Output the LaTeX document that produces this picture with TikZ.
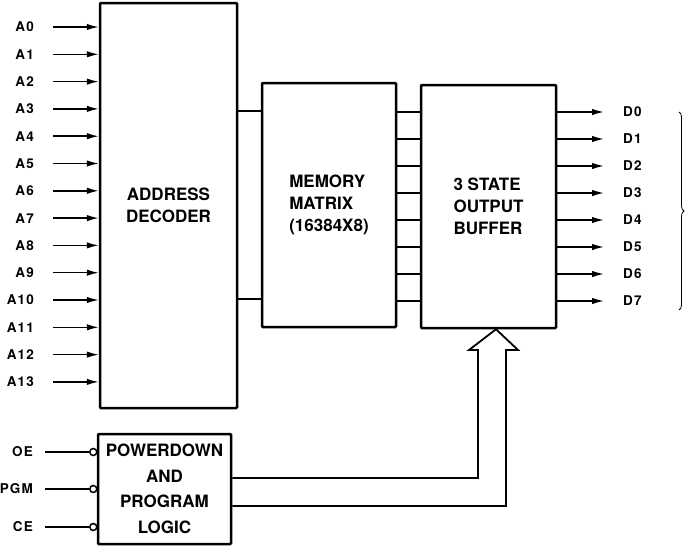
\documentclass[tikz,border=0pt]{standalone}
\usepackage{fontspec}
\setmainfont{TeX Gyre Heros}
\newfontfamily\pinfont[LetterSpace=8]{TeX Gyre Heros}
\usetikzlibrary{arrows.meta,decorations.pathreplacing,calc}
\begin{document}
\begin{tikzpicture}[x=1pt,y=-1pt,
  blk/.style={draw,line width=2.5pt,rounded corners=1pt,inner sep=0pt,font=\fontsize{17}{22}\selectfont\bfseries},
  pinlbl/.style={font=\pinfont\fontsize{13.5}{15}\selectfont\bfseries,inner sep=0pt},
  wire/.style={line width=1.5pt},
  inarr/.style={wire,-{Latex[length=12pt,width=6.5pt]}},
  bub/.style={draw,circle,line width=1.5pt,minimum size=7pt,inner sep=0pt,fill=white},
]
\useasboundingbox (0,0) rectangle (687,547);

% blocks
\node[blk,minimum width=137pt,minimum height=405pt,align=center] (dec) at (168.5,205.5) {ADDRESS\\DECODER};
\node[blk,minimum width=134pt,minimum height=244pt,align=left] (mem) at (329,205) {MEMORY\\MATRIX\\(16384X8)};
\node[blk,minimum width=135pt,minimum height=243pt,align=left] (buf) at (488.5,206.5) {3 STATE\\OUTPUT\\BUFFER};
\node[blk,minimum width=133pt,minimum height=110pt,align=center,font=\fontsize{17}{25.5}\selectfont\bfseries] (pwr) at (164.5,489) {POWERDOWN\\AND\\PROGRAM\\LOGIC};

% address inputs
\foreach \i in {0,...,13} {
  \pgfmathsetmacro\yy{27+27.3*\i}
  \node[pinlbl,anchor=east] (la\i) at (34,\yy) {A\i};
  \coordinate (as\i) at (53,\yy);
  \draw[inarr] (as\i) -- (as\i -| dec.west);
}

% decoder to matrix
\coordinate (dm1) at (250,111);
\coordinate (dm2) at (250,299);
\draw[wire] (dm1 -| dec.east) -- (dm1 -| mem.west);
\draw[wire] (dm2 -| dec.east) -- (dm2 -| mem.west);

% matrix to buffer, and data outputs
\foreach \i in {0,...,7} {
  \pgfmathsetmacro\yy{112+27*\i}
  \coordinate (mb\i) at (408,\yy);
  \draw[wire] (mb\i -| mem.east) -- (mb\i -| buf.west);
  \coordinate (de\i) at (604,\yy);
  \node[pinlbl,anchor=west] (ld\i) at (623,\yy) {D\i};
  \draw[inarr] (de\i -| buf.east) -- (de\i);
}

% brace
\coordinate (brt) at (679,112);
\coordinate (brb) at (679,310);
\draw[line width=0.8pt,decorate,decoration={brace,amplitude=5pt}] (brt) -- (brb);

% control inputs
\node[pinlbl,anchor=east] (loe) at (33,452) {OE};
\node[pinlbl,anchor=east] (lpgm) at (33,489) {PGM};
\node[pinlbl,anchor=east] (lce) at (33,527) {CE};
\node[bub] (boe) at (93.3,452) {};
\node[bub] (bpgm) at (93.3,489) {};
\node[bub] (bce) at (93.3,527) {};
\coordinate (soe) at (45,452);
\coordinate (spgm) at (45,489);
\coordinate (sce) at (45,527);
\draw[wire] (soe) -- (boe);
\draw[wire] (spgm) -- (bpgm);
\draw[wire] (sce) -- (bce);

% hollow arrow from control logic to buffer
\coordinate (tip) at ($(buf.south)+(7.5,0)$);
\coordinate (po1) at (240,478);
\coordinate (po2) at (240,506);
\draw[wire,line width=1.8pt,line join=miter] (po1 -| pwr.east) -- (478,478) -- (478,350) -- (469,350) -- (tip)
  -- (518,350) -- (506,350) -- (506,506) -- (po2 -| pwr.east);
\end{tikzpicture}
\end{document}
